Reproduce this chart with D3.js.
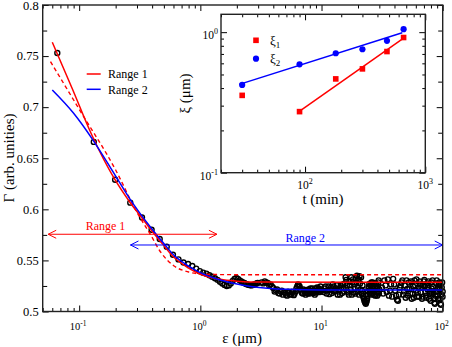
<!DOCTYPE html>
<html>
<head>
<meta charset="utf-8">
<script src="https://cdn.jsdelivr.net/npm/d3@7"></script>
<style>
body { margin: 0; background: #fff; }
svg text { font-family: "Liberation Serif", "Times New Roman", Times, serif; }
</style>
</head>
<body>
<svg id="chart" width="452" height="347" font-family="Liberation Serif, Times New Roman, serif"></svg>
<script>
// measured curve, [epsilon (um), Gamma]
var measuredLow = [
  [0.066,0.753],[0.132,0.666],[0.198,0.629],[0.264,0.6065],[0.33,0.592],
  [0.396,0.580],[0.462,0.571],[0.528,0.5634],[0.594,0.5555],[0.66,0.551],
  [0.726,0.548],[0.792,0.5465],[0.858,0.5445],[0.924,0.542],[0.99,0.5395],
  [1.056,0.538],[1.122,0.537],[1.188,0.5355],[1.254,0.534],[1.32,0.5325],
  [1.386,0.531],[1.452,0.529],[1.518,0.5275],[1.584,0.526],[1.65,0.525],
  [1.716,0.5255],[1.782,0.5275],[1.848,0.530],[1.914,0.532],[1.98,0.5328],
  [2.046,0.532],[2.112,0.5305],[2.178,0.5295],[2.244,0.5285],[2.31,0.528],
  [2.376,0.527],[2.442,0.5265],[2.508,0.526],[2.574,0.5258],[2.64,0.5255],
  [2.706,0.526],[2.772,0.5262],[2.838,0.5268],[2.904,0.5275],[2.97,0.528]
];
var measuredMid = [
  [3.2,0.5285],[3.4,0.5295],[3.6,0.528],[3.8,0.5265],[4.0,0.523],[4.2,0.5205],
  [4.4,0.518],[4.6,0.5195],[4.8,0.5165],[5.0,0.518],[5.2,0.5155],[5.4,0.5185],
  [5.6,0.5165],[5.8,0.519],[6.0,0.5175],[6.2,0.5225],[6.4,0.5265],[6.6,0.5245],
  [6.8,0.5195],[7.0,0.5175],[7.2,0.5205],[7.4,0.5165],[7.6,0.519],[7.8,0.5215],
  [8.0,0.5175],[8.2,0.5205],[8.4,0.5225],[8.6,0.518],[8.8,0.5165],[9.0,0.5205],
  [9.2,0.5235],[9.4,0.519],[9.6,0.5215],[9.8,0.5245],[10.0,0.5205],
  [3.3,0.5275],[3.5,0.5285],[3.7,0.5255],[3.9,0.5245],[4.1,0.5195],[4.3,0.5215],
  [4.5,0.5175],[4.7,0.5205],[4.9,0.519],[5.1,0.5165],[5.3,0.5195],[5.5,0.517],
  [5.7,0.5195],[5.9,0.516],[6.1,0.5195],[6.3,0.5245],[6.5,0.5255],[6.7,0.5215],
  [6.9,0.518],[7.1,0.5215],[7.3,0.5185],[7.5,0.5205],[7.7,0.5175],[7.9,0.5195],
  [8.1,0.5225],[8.3,0.5185],[8.5,0.5205],[8.7,0.5195],[8.9,0.5225],[9.1,0.5185],
  [9.3,0.5205],[9.5,0.5225],[9.7,0.519],[9.9,0.5215]
];
var measuredHigh = [
  [10.4,0.519],[10.8,0.5245],[11.2,0.5205],[11.6,0.517],[12.0,0.5235],[12.4,0.5265],
  [12.8,0.5195],[13.2,0.5225],[13.6,0.5165],[14.0,0.5215],[14.4,0.5255],[14.8,0.518],
  [15.2,0.523],[15.6,0.5275],[16.0,0.531],[16.4,0.5195],[16.8,0.5165],[17.2,0.5255],
  [17.6,0.5335],[18.0,0.5285],[18.4,0.5185],[18.8,0.5225],[19.2,0.5325],[19.6,0.535],
  [20.0,0.5235],[20.4,0.5165],[20.8,0.5275],[21.2,0.5335],[21.6,0.5205],[22.0,0.5155],
  [22.4,0.5125],[22.8,0.5095],[23.2,0.5075],[23.6,0.5105],[24.0,0.5165],[24.4,0.5225],
  [24.8,0.527],[25.2,0.5195],[25.6,0.5165],[26.0,0.5245],[26.4,0.5285],[26.8,0.5205],
  [27.2,0.5165],[27.6,0.5235],[28.0,0.5275],[28.4,0.5185],[28.8,0.5155],[29.2,0.5245],
  [29.6,0.5305],[30.0,0.5215],
  [10.6,0.5225],[11.0,0.5175],[11.4,0.5245],[11.8,0.5215],[12.2,0.518],[12.6,0.5245],
  [13.0,0.5205],[13.4,0.5255],[13.8,0.5195],[14.2,0.5165],[14.6,0.5235],[15.0,0.5265],
  [15.4,0.5195],[15.8,0.5335],[16.2,0.5255],[16.6,0.5185],[17.0,0.5295],[17.4,0.5215],
  [17.8,0.5165],[18.2,0.5315],[18.6,0.5265],[19.0,0.5175],[19.4,0.5285],[19.8,0.5195],
  [20.2,0.5315],[20.6,0.5345],[21.0,0.5215],[21.4,0.5175],[21.8,0.5255],[22.2,0.514],
  [22.6,0.5105],[23.0,0.5085],[23.4,0.509],[23.8,0.5125],[24.2,0.5195],[24.6,0.5245],
  [25.0,0.5175],[25.4,0.5255],[25.8,0.5285],[26.2,0.5175],[26.6,0.5225],[27.0,0.5275],
  [27.4,0.5195],[27.8,0.5155],[28.2,0.5265],[28.6,0.5225],[29.0,0.5185],[29.4,0.5285],
  [29.8,0.5175]
];
var measuredTail = [
  [31.5,0.5235],[33,0.5305],[34.5,0.519],[36,0.5155],[37.5,0.5265],[39,0.532],
  [40.5,0.5205],[42,0.5115],[43.5,0.5165],[45,0.5255],[46.5,0.5305],[48,0.5195],
  [49.5,0.5135],[51,0.522],[52.5,0.5285],[54,0.5175],[55.5,0.5125],[57,0.5245],
  [58.5,0.5305],[60,0.5205],[61.5,0.5145],[63,0.5235],[64.5,0.5295],[66,0.5185],
  [67.5,0.5125],[69,0.5255],[70.5,0.531],[72,0.5195],[73.5,0.5135],[75,0.5215],
  [76.5,0.5295],[78,0.5175],[79.5,0.5105],[81,0.5225],[82.5,0.5305],[84,0.5185],
  [85.5,0.5085],[87,0.5155],[88.5,0.5275],[90,0.5195],[91.5,0.5125],[93,0.5265],
  [94.5,0.5215],[96,0.5075],[97.5,0.5165],[99,0.5285],[100,0.5195],
  [32.25,0.5175],[33.75,0.5255],[35.25,0.5315],[36.75,0.5205],[38.25,0.5145],[39.75,0.5265],
  [41.25,0.5155],[42.75,0.5105],[44.25,0.5235],[45.75,0.5285],[47.25,0.5165],[48.75,0.5255],
  [50.25,0.5305],[51.75,0.5155],[53.25,0.5225],[54.75,0.5295],[56.25,0.5175],[57.75,0.5135],
  [59.25,0.5255],[60.75,0.5315],[62.25,0.5185],[63.75,0.5145],[65.25,0.5265],[66.75,0.5235],
  [68.25,0.5145],[69.75,0.5295],[71.25,0.5245],[72.75,0.5155],[74.25,0.5275],[75.75,0.5235],
  [77.25,0.5125],[78.75,0.5195],[80.25,0.5285],[81.75,0.5175],[83.25,0.5245],[84.75,0.5125],
  [86.25,0.5075],[87.75,0.5195],[89.25,0.5305],[90.75,0.5155],[92.25,0.5225],[93.75,0.5285],
  [95.25,0.5125],[96.75,0.5065],[98.25,0.5235],[99.75,0.5145]
];

// fitted curves
var fitRange1 = [
  [0.06,0.7636],[0.0874,0.7185],[0.128,0.672],[0.193,0.631],[0.264,0.6065],
  [0.33,0.5915],[0.4,0.5785],[0.5,0.5645],[0.6,0.5535],[0.8,0.5425],[1.0,0.5365],
  [1.46,0.5315],[2.0,0.5297],[3.0,0.5288],[100,0.5286]
];
var fitRange1Dash = [
  [0.058,0.7446],[0.1,0.698],[0.2,0.6385],[0.3,0.597],[0.388,0.5752],[0.468,0.5585],
  [0.603,0.5448],[0.8,0.5387],[1.0,0.5368],[1.5,0.5361],[3,0.536],[100,0.536]
];
var fitRange2 = [
  [0.06,0.7168],[0.09,0.694],[0.128,0.669],[0.2,0.6325],[0.261,0.6105],[0.4,0.5805],
  [0.5,0.5665],[0.6,0.5555],[0.8,0.5445],[1.0,0.538],[1.46,0.5308],[2.7,0.5243],
  [5.2,0.5217],[10,0.521],[100,0.521]
];

// range arrows
var range1Span = [0.0555, 1.37], range1Level = 0.5756;
var range2Span = [0.265, 100], range2Level = 0.5651;

var yTicks = [0.5, 0.55, 0.6, 0.65, 0.7, 0.75, 0.8];
var yTickLabels = ["0.5", "0.55", "0.6", "0.65", "0.7", "0.75", "0.8"];
var xTicks = [0.1, 1, 10, 100];
var xTickExp = ["-1", "0", "1", "2"];

// inset: correlation lengths vs time
var times = [30, 90, 180, 300, 480, 660];
var xi1 = [0.355, 0.272, 0.465, 0.548, 0.728, 0.916];
var xi2 = [0.421, 0.590, 0.708, 0.756, 0.868, 1.05];
var fit1T = [89, 683], fit1Xi = [0.272, 0.927];
var fit2T = [28.4, 643], fit2Xi = [0.425, 0.99];
var insetXTicks = [100, 1000], insetXExp = ["2", "3"];
var insetYTicks = [0.1, 1], insetYExp = ["-1", "0"];

var RED = "#ff0000", BLUE = "#0000ff";
var svg = d3.select("#chart");

var mL = 42.7, mR = 442.7, mT = 5, mB = 311.5;
var x = d3.scaleLog().domain([0.05, 100]).range([mL, mR]);
var y = d3.scaleLinear().domain([0.5, 0.8]).range([mB, mT]);

const decadeMinors = (decades, lo, hi) =>
  decades.flatMap(d => d3.range(2, 10).map(m => +(m * d).toPrecision(3)))
         .filter(v => v >= lo && v <= hi);

const drawTicks = (g, axis, values, size) => {
  g.call(axis.tickValues(values).tickSize(size).tickFormat(""));
  g.select(".domain").remove();
  g.selectAll("line").attr("stroke", "#000").attr("stroke-width", 1);
};

const powerLabel = (sel, base, exp, fs, sfs) => {
  sel.append("tspan").attr("font-size", fs).text(base);
  sel.append("tspan").attr("font-size", sfs).attr("dy", -fs * 0.42).text(exp);
};

// main ticks on all four sides, pointing inward
var xMinor = decadeMinors([0.01, 0.1, 1, 10], 0.05, 100);
var yMinor = [0.525, 0.575, 0.625, 0.675, 0.725, 0.775];
var gAx = svg.append("g");
drawTicks(gAx.append("g").attr("transform", "translate(0," + mB + ")"), d3.axisBottom(x), xTicks, -6);
drawTicks(gAx.append("g").attr("transform", "translate(0," + mB + ")"), d3.axisBottom(x), xMinor, -3.5);
drawTicks(gAx.append("g").attr("transform", "translate(0," + mT + ")"), d3.axisTop(x), xTicks, -6);
drawTicks(gAx.append("g").attr("transform", "translate(0," + mT + ")"), d3.axisTop(x), xMinor, -3.5);
drawTicks(gAx.append("g").attr("transform", "translate(" + mL + ",0)"), d3.axisLeft(y), yTicks, -6);
drawTicks(gAx.append("g").attr("transform", "translate(" + mL + ",0)"), d3.axisLeft(y), yMinor, -4.5);
drawTicks(gAx.append("g").attr("transform", "translate(" + mR + ",0)"), d3.axisRight(y), yTicks, -6);
drawTicks(gAx.append("g").attr("transform", "translate(" + mR + ",0)"), d3.axisRight(y), yMinor, -4.5);

// tick labels
svg.selectAll(".ylab").data(yTicks).enter().append("text")
  .attr("x", mL - 4).attr("y", d => Math.max(y(d) + 4.3, 9.8))
  .attr("text-anchor", "end").attr("font-size", 12.5)
  .text((d, i) => yTickLabels[i]);
xTicks.forEach((v, i) => {
  var t = svg.append("text").attr("x", x(v) - 1).attr("y", mB + 18.5).attr("text-anchor", "middle");
  powerLabel(t, "10", xTickExp[i], 10.5, 7.5);
});

svg.append("text").attr("x", 242).attr("y", 342.5).attr("text-anchor", "middle")
  .attr("font-size", 15).text("\u03b5 (\u03bcm)");
svg.append("text").attr("transform", "translate(14,158) rotate(-90)").attr("text-anchor", "middle")
  .attr("font-size", 15).text("\u0393 (arb. unities)");

// measured points
var allMeasured = measuredLow.concat(measuredMid, measuredHigh, measuredTail);
svg.append("g").selectAll("circle").data(allMeasured).enter().append("circle")
  .attr("cx", d => x(d[0])).attr("cy", d => y(d[1])).attr("r", 2.5)
  .attr("fill", "none").attr("stroke", "#000").attr("stroke-width", 1.35);

// fit curves
var line = d3.line().x(d => x(d[0])).y(d => y(d[1])).curve(d3.curveMonotoneX);
svg.append("path").datum(fitRange1Dash).attr("d", line).attr("fill", "none")
  .attr("stroke", RED).attr("stroke-width", 1.4).attr("stroke-dasharray", "4,3");
svg.append("path").datum(fitRange1).attr("d", line).attr("fill", "none")
  .attr("stroke", RED).attr("stroke-width", 1.5);
svg.append("path").datum(fitRange2).attr("d", line).attr("fill", "none")
  .attr("stroke", BLUE).attr("stroke-width", 1.5);

// double arrows for the fitting ranges
const arrow = (span, level, color) => {
  var g = svg.append("g").attr("stroke", color).attr("fill", "none").attr("stroke-width", 1);
  var x0 = x(span[0]), x1 = x(span[1]), yy = y(level);
  g.append("line").attr("x1", x0).attr("x2", x1).attr("y1", yy).attr("y2", yy);
  g.append("polyline").attr("points", [[x0 + 8, yy - 4], [x0, yy], [x0 + 8, yy + 4]].join(" "));
  g.append("polyline").attr("points", [[x1 - 8, yy - 4], [x1, yy], [x1 - 8, yy + 4]].join(" "));
};
arrow(range1Span, range1Level, RED);
arrow(range2Span, range2Level, BLUE);
svg.append("text").attr("x", x(0.165)).attr("y", y(0.5793)).attr("text-anchor", "middle")
  .attr("font-size", 12).attr("fill", RED).text("Range 1");
svg.append("text").attr("x", x(7.34)).attr("y", y(0.568)).attr("text-anchor", "middle")
  .attr("font-size", 12).attr("fill", BLUE).text("Range 2");

// legend
[["Range 1", RED, 74], ["Range 2", BLUE, 89.3]].forEach(l => {
  svg.append("line").attr("x1", 86.7).attr("x2", 100.7).attr("y1", l[2]).attr("y2", l[2])
    .attr("stroke", l[1]).attr("stroke-width", 1.5);
  svg.append("text").attr("x", 108).attr("y", l[2] + 4.2).attr("font-size", 12).text(l[0]);
});

// frame
svg.append("rect").attr("x", mL).attr("y", mT).attr("width", mR - mL).attr("height", mB - mT)
  .attr("fill", "none").attr("stroke", "#222").attr("stroke-width", 1.4);

// ---------- inset ----------
var iL = 221, iR = 425.3, iT = 14.3, iB = 172.7;
var tx = d3.scaleLog().domain([20, 1000]).range([iL, iR]);
var ty = d3.scaleLog().domain([0.1, 1.34]).range([iB, iT]);
var inset = svg.append("g");
inset.append("rect").attr("x", iL).attr("y", iT).attr("width", iR - iL).attr("height", iB - iT)
  .attr("fill", "#fff");

var txMinor = decadeMinors([10, 100], 20, 1000);
var tyMinor = decadeMinors([0.1], 0.1, 1.34);
drawTicks(inset.append("g").attr("transform", "translate(0," + iB + ")"), d3.axisBottom(tx), insetXTicks, -6);
drawTicks(inset.append("g").attr("transform", "translate(0," + iB + ")"), d3.axisBottom(tx), txMinor, -3);
drawTicks(inset.append("g").attr("transform", "translate(0," + iT + ")"), d3.axisTop(tx), insetXTicks, -6);
drawTicks(inset.append("g").attr("transform", "translate(0," + iT + ")"), d3.axisTop(tx), txMinor, -3);
drawTicks(inset.append("g").attr("transform", "translate(" + iL + ",0)"), d3.axisLeft(ty), insetYTicks, -6);
drawTicks(inset.append("g").attr("transform", "translate(" + iL + ",0)"), d3.axisLeft(ty), tyMinor, -3);
drawTicks(inset.append("g").attr("transform", "translate(" + iR + ",0)"), d3.axisRight(ty), insetYTicks, -6);
drawTicks(inset.append("g").attr("transform", "translate(" + iR + ",0)"), d3.axisRight(ty), tyMinor, -3);

insetXTicks.forEach((v, i) => {
  var t = inset.append("text").attr("x", tx(v)).attr("y", iB + 16.5).attr("text-anchor", "middle");
  powerLabel(t, "10", insetXExp[i], 11.5, 8);
});
insetYTicks.forEach((v, i) => {
  var t = inset.append("text").attr("x", iL - 3).attr("y", ty(v) + 7).attr("text-anchor", "end");
  powerLabel(t, "10", insetYExp[i], 11.5, 8);
});
inset.append("text").attr("x", 323).attr("y", 203.5).attr("text-anchor", "middle")
  .attr("font-size", 15).text("t (min)");
inset.append("text").attr("transform", "translate(190,93.5) rotate(-90)").attr("text-anchor", "middle")
  .attr("font-size", 15).text("\u03be (\u03bcm)");

var fitLine = d3.line().x(d => tx(d[0])).y(d => ty(d[1]));
inset.append("path").datum(d3.zip(fit1T, fit1Xi)).attr("d", fitLine)
  .attr("stroke", RED).attr("stroke-width", 1.5).attr("fill", "none");
inset.append("path").datum(d3.zip(fit2T, fit2Xi)).attr("d", fitLine)
  .attr("stroke", BLUE).attr("stroke-width", 1.5).attr("fill", "none");

inset.selectAll(".sq").data(d3.zip(times, xi1)).enter().append("rect")
  .attr("x", d => tx(d[0]) - 2.8).attr("y", d => ty(d[1]) - 2.8)
  .attr("width", 5.6).attr("height", 5.6).attr("fill", RED);
inset.selectAll(".ci").data(d3.zip(times, xi2)).enter().append("circle")
  .attr("cx", d => tx(d[0])).attr("cy", d => ty(d[1])).attr("r", 3.1).attr("fill", BLUE);

// inset legend
inset.append("rect").attr("x", 253.2).attr("y", 37.5).attr("width", 5.6).attr("height", 5.6).attr("fill", RED);
inset.append("circle").attr("cx", 256).attr("cy", 58.7).attr("r", 3.1).attr("fill", BLUE);
[["1", 44.5], ["2", 63]].forEach(l => {
  var t = inset.append("text").attr("x", 270).attr("y", l[1]);
  t.append("tspan").attr("font-size", 13).text("\u03be");
  t.append("tspan").attr("font-size", 9).attr("dy", 3).text(l[0]);
});

inset.append("rect").attr("x", iL).attr("y", iT).attr("width", iR - iL).attr("height", iB - iT)
  .attr("fill", "none").attr("stroke", "#222").attr("stroke-width", 1.4);
</script>
</body>
</html>
